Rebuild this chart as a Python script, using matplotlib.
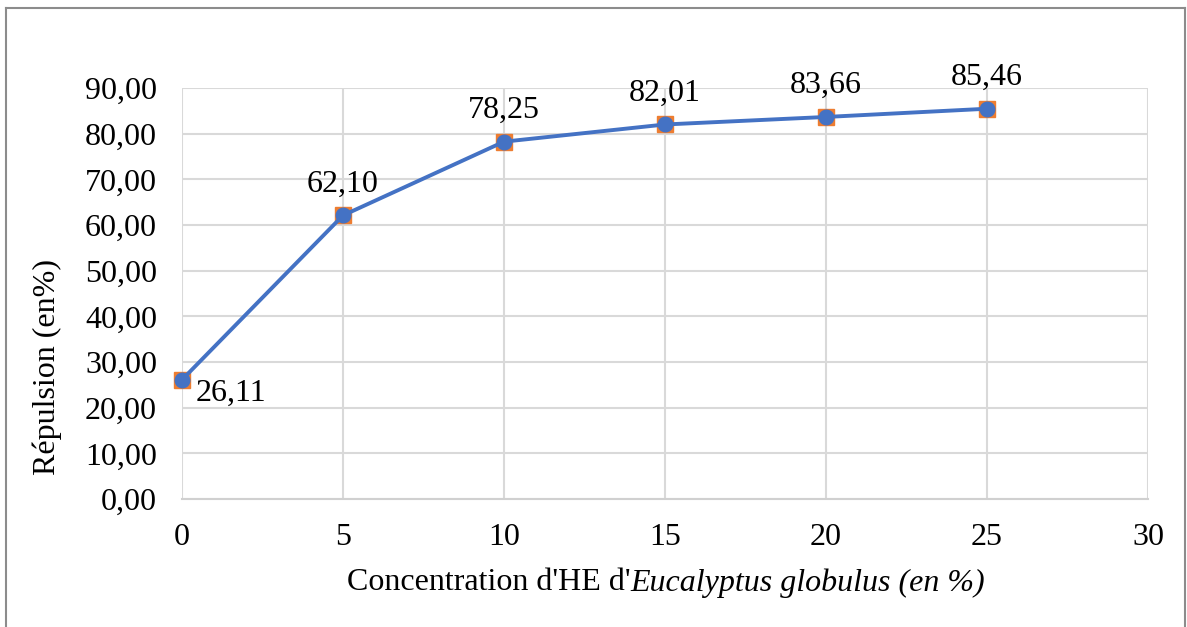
import matplotlib
matplotlib.use("Agg")
import matplotlib.pyplot as plt
from matplotlib.lines import Line2D

# donnees
concentration = [0, 5, 10, 15, 20, 25]
repulsion = [26.11, 62.10, 78.25, 82.01, 83.66, 85.46]
etiquettes = ["26,11", "62,10", "78,25", "82,01", "83,66", "85,46"]
y_ticks = [0, 10, 20, 30, 40, 50, 60, 70, 80, 90]
x_ticks = [0, 5, 10, 15, 20, 25, 30]

plt.rcParams['font.family'] = ['Liberation Serif', 'DejaVu Serif']
fs = 23

fig = plt.figure(figsize=(11.87, 6.27), dpi=100)
ax = fig.add_axes([182 / 1187, 1 - 499 / 627, (1148 - 182) / 1187, (499 - 88) / 627])

# cadre exterieur du graphique
border = '#8c8c8c'
fig.add_artist(Line2D([6 / 1187, 6 / 1187], [-0.1, 1 - 8 / 627], color=border, lw=1.5, transform=fig.transFigure))
fig.add_artist(Line2D([6 / 1187, 1185 / 1187], [1 - 8 / 627, 1 - 8 / 627], color=border, lw=1.5, transform=fig.transFigure))
fig.add_artist(Line2D([1185 / 1187, 1185 / 1187], [-0.1, 1 - 8 / 627], color=border, lw=1.5, transform=fig.transFigure))

# deux series superposees (carres orange sous les points bleus)
ax.plot(concentration, repulsion, linestyle='none', marker='s', markersize=11,
        color='#ED7D31', zorder=3, clip_on=False)
ax.plot(concentration, repulsion, color='#4472C4', lw=2.8, marker='o', markersize=10.5,
        zorder=4, clip_on=False)

for i, (x, y) in enumerate(zip(concentration, repulsion)):
    if i == 0:
        ax.annotate(etiquettes[i], (x, y), xytext=(10, -10), textcoords='offset points',
                    ha='left', va='center', fontsize=fs)
    else:
        ax.annotate(etiquettes[i], (x, y), xytext=(0, 12), textcoords='offset points',
                    ha='center', va='bottom', fontsize=fs)

ax.set_xlim(0, 30)
ax.set_ylim(0, 90)
ax.set_xticks(x_ticks)
ax.set_yticks(y_ticks)
ax.set_yticklabels([f"{v:.2f}".replace('.', ',') for v in y_ticks])
ax.tick_params(axis='both', length=0, labelsize=fs)
ax.tick_params(axis='x', pad=17)
ax.tick_params(axis='y', pad=18)

ax.grid(True, color='#d9d9d9', lw=1.5)
ax.set_axisbelow(True)
for s in ['top', 'right', 'left']:
    ax.spines[s].set_visible(False)
ax.spines['bottom'].set_color('#d0d0d0')
ax.spines['bottom'].set_linewidth(1.5)

# titre de l'axe y (decale vers le bas comme dans Excel)
fig.text(47 / 1187, 1 - 367 / 627, "Répulsion (en%)", fontsize=fs, rotation=90,
         ha='center', va='center')

# titre de l'axe x : partie droite + partie italique
part1 = "Concentration d'HE d'"
part2 = "Eucalyptus globulus (en %)"
renderer = fig.canvas.get_renderer()
t1 = fig.text(0, 0, part1, fontsize=fs)
t2 = fig.text(0, 0, part2, fontsize=fs, style='italic')
w1 = t1.get_window_extent(renderer).width
w2 = t2.get_window_extent(renderer).width
cx = 666
y_lab = 1 - 583 / 627
x_start = cx - (w1 + w2) / 2
t1.set_position((x_start / 1187, y_lab))
t1.set_va('center')
t2.set_position(((x_start + w1) / 1187, y_lab))
t2.set_va('center')

fig.savefig("out.png", dpi=100)
